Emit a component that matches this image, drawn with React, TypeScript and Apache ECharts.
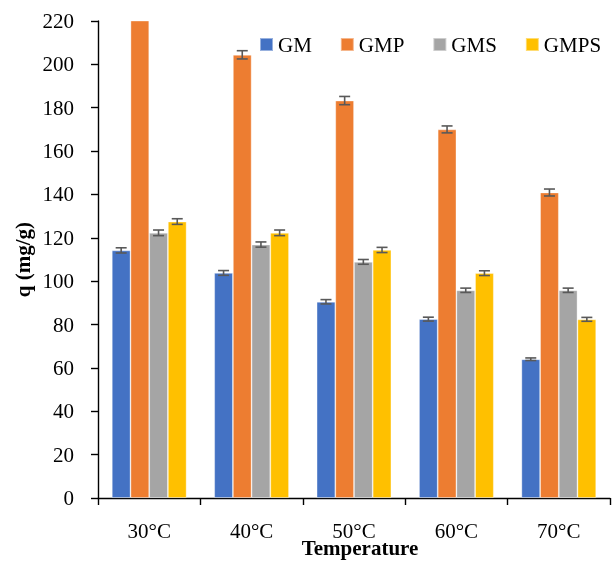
import React, { useEffect, useRef } from "react";
import * as echarts from "echarts";

const categories = ["30°C", "40°C", "50°C", "60°C", "70°C"];
const seriesNames = ["GM", "GMP", "GMS", "GMPS"];
const gmValues = [114.2, 103.8, 90.5, 82.5, 64.0];
const gmpValues = [224, 204.4, 183.3, 170.0, 140.9];
const gmsValues = [122.3, 116.9, 108.9, 95.8, 95.8];
const gmpsValues = [127.5, 122.3, 114.4, 103.7, 82.4];
const gmErrors = [1.2, 1.1, 1.0, 0.9, 0.6];
const gmpErrors = [2.0, 1.9, 1.9, 1.6, 1.6];
const gmsErrors = [1.3, 1.2, 1.1, 1.0, 1.0];
const gmpsErrors = [1.3, 1.3, 1.2, 1.1, 0.9];
const colors = ["#4472C4", "#ED7D31", "#A5A5A5", "#FFC000"];

const FONT = "'Palatino Linotype', 'Book Antiqua', Palatino, 'Liberation Serif', serif";
const CAT_GAP = 0.27;

export default function App() {
  const ref = useRef<HTMLDivElement>(null);
  useEffect(() => {
    if (!ref.current) return;
    const chart = echarts.init(ref.current, null, { renderer: "svg" });
    const values = [gmValues, gmpValues, gmsValues, gmpsValues];
    const errors = [gmErrors, gmpErrors, gmsErrors, gmpsErrors];

    const barSeries = seriesNames.map((name, i) => ({
      name,
      type: "bar",
      data: values[i],
      barGap: "0%",
      barCategoryGap: "27%",
      clip: true,
      itemStyle: {
        color: colors[i],
        borderColor: "rgba(255,255,255,0.45)",
        borderWidth: 0.8,
      },
    }));

    const errSeries = seriesNames.map((name, i) => ({
      name: name + "_err",
      type: "custom",
      clip: true,
      z: 5,
      data: values[i].map((v, k) => [k, v, errors[i][k]]),
      renderItem: (params: any, api: any) => {
        const k = api.value(0);
        const v = api.value(1);
        const e = api.value(2);
        const catW = api.size([1, 0])[0];
        const bw = (catW * (1 - CAT_GAP)) / 4;
        const center = api.coord([k, v]);
        const x = center[0] + (i - 1.5) * bw;
        const yTop = api.coord([k, v + e])[1];
        const yBot = api.coord([k, v - e])[1];
        const hw = 5.5;
        const style = { stroke: "#595959", lineWidth: 1.6 };
        return {
          type: "group",
          children: [
            { type: "line", shape: { x1: x, y1: yTop, x2: x, y2: yBot }, style },
            { type: "line", shape: { x1: x - hw, y1: yTop, x2: x + hw, y2: yTop }, style },
            { type: "line", shape: { x1: x - hw, y1: yBot, x2: x + hw, y2: yBot }, style },
          ],
        };
      },
    }));

    chart.setOption({
      animation: false,
      textStyle: { fontFamily: FONT },
      grid: { left: 98, right: 5, top: 21, bottom: 65, outerBoundsMode: "none", containLabel: false },
      legend: {
        data: seriesNames,
        left: 254,
        top: 29,
        itemWidth: 13,
        itemHeight: 13,
        itemGap: 28,
        icon: "rect",
        textStyle: { fontFamily: FONT, fontSize: 21, color: "#000" },
      },
      xAxis: {
        type: "category",
        data: categories,
        name: "Temperature",
        nameLocation: "middle",
        nameGap: 42,
        nameMoveOverlap: false,
        nameTextStyle: {
          fontFamily: FONT,
          fontSize: 21,
          lineHeight: 16,
          fontWeight: "bold",
          color: "#000",
          padding: [0, 0, 0, 12],
        },
        axisLine: { lineStyle: { color: "#000", width: 1.4 } },
        axisTick: { show: true, length: 7, lineStyle: { color: "#000", width: 1.4 } },
        axisLabel: { fontFamily: FONT, fontSize: 21, lineHeight: 16, color: "#000", margin: 25 },
      },
      yAxis: {
        type: "value",
        min: 0,
        max: 220,
        interval: 20,
        name: "q (mg/g)",
        nameLocation: "middle",
        nameGap: 65,
        nameMoveOverlap: false,
        nameTextStyle: { fontFamily: FONT, fontSize: 21, fontWeight: "bold", color: "#000" },
        axisLine: { show: true, lineStyle: { color: "#000", width: 1.4 } },
        axisTick: { show: true, length: 7, lineStyle: { color: "#000", width: 1.4 } },
        axisLabel: { fontFamily: FONT, fontSize: 21, color: "#000", margin: 24 },
        splitLine: { show: false },
      },
      series: [...barSeries, ...errSeries],
    });
    return () => chart.dispose();
  }, []);
  return (
    <div
      ref={ref}
      style={{ position: "fixed", left: 0, top: 0, width: 615, height: 563 }}
    />
  );
}
